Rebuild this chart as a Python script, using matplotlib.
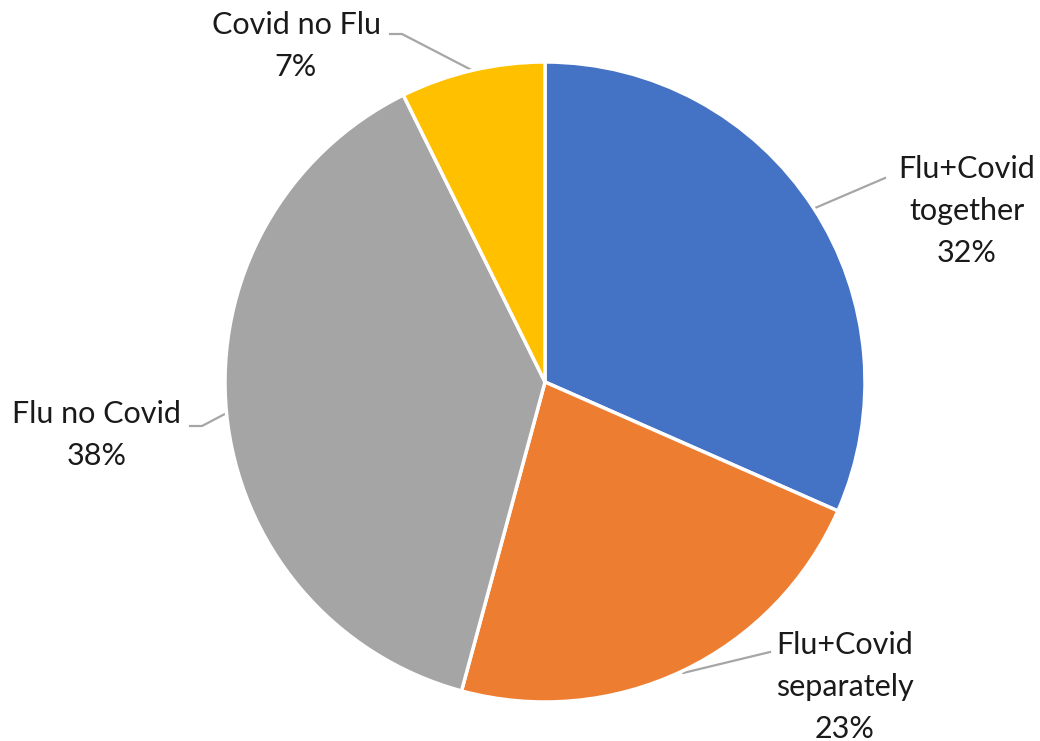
import numpy as np
import matplotlib.pyplot as plt

# data (slice shares; labels as printed)
labels = ['Flu+Covid\ntogether\n32%', 'Flu+Covid\nseparately\n23%', 'Flu no Covid\n38%', 'Covid no Flu\n7%']
values = [31.6, 22.6, 38.5, 7.3]
colors = ['#4472C4', '#ED7D31', '#A5A5A5', '#FFC000']

W, H = 1040, 741
cx, cy, r = 545, H - 382, 320

# label block centres and leader-line elbows (pixels, y from bottom)
label_pos = [(967, H - 211), (845, H - 687), (97, H - 435), (296, H - 46)]
elbows = [[(885, H - 178), (815, H - 208)],
          [(770, H - 652), (683, H - 673)],
          [(190, H - 426), (202, H - 426)],
          [(390, H - 34), (402, H - 34)]]

fig = plt.figure(figsize=(W / 100, H / 100), dpi=100)
ax = fig.add_axes([0, 0, 1, 1])
ax.set_xlim(0, W)
ax.set_ylim(0, H)
ax.set_aspect('equal')
ax.axis('off')

wedges, _ = ax.pie(values, colors=colors, startangle=90, counterclock=False,
                   center=(cx, cy), radius=r,
                   wedgeprops=dict(edgecolor='white', linewidth=2.5))
ax.set_xlim(0, W)
ax.set_ylim(0, H)

for w, lab, (lx, ly), elb in zip(wedges, labels, label_pos, elbows):
    mid = np.deg2rad((w.theta1 + w.theta2) / 2)
    ex, ey = cx + r * np.cos(mid), cy + r * np.sin(mid)
    xs = [elb[0][0], elb[1][0], ex]
    ys = [elb[0][1], elb[1][1], ey]
    ax.plot(xs, ys, color='#A6A6A6', lw=1.6, zorder=0.5)
    ax.text(lx, ly, lab, ha='center', va='center', fontsize=22,
            family='Lato', color='#1a1a1a', linespacing=1.6)

fig.savefig('out.png', dpi=100)
